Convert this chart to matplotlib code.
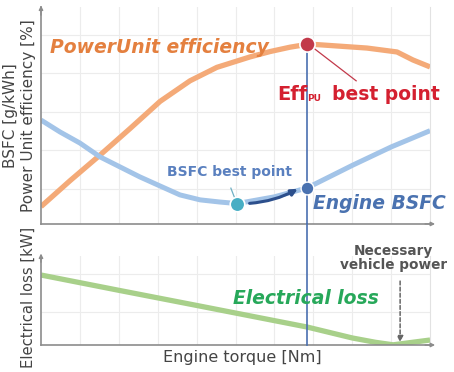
import matplotlib.pyplot as plt
import numpy as np

plt.rcParams['font.family'] = ['DejaVu Sans']

# engine torque axis (arbitrary units, 0..10)
torque = [0, 0.75, 1.52, 2.29, 3.06, 3.83, 4.52, 5.37, 5.89, 6.4, 6.84, 7.09,
          8.38, 9.15, 9.56, 10]
pu_eff = [0.8, 2.0, 3.18, 4.4, 5.65, 6.6, 7.22, 7.7, 7.95, 8.15, 8.28, 8.27,
          8.11, 7.93, 7.56, 7.24]

bsfc_torque = [0, 0.49, 1.0, 1.52, 2.03, 2.54, 3.06, 3.57, 4.09, 4.6, 5.04,
               6.0, 6.84, 8.0, 9.0, 10]
bsfc = [4.79, 4.24, 3.73, 3.09, 2.63, 2.17, 1.75, 1.34, 1.11, 1.01, 0.94,
        1.25, 1.66, 2.7, 3.55, 4.3]

loss_torque = [0, 2, 4, 6.84, 8, 8.6, 9.05, 10]
elec_loss = [7.87, 6.15, 4.45, 2.02, 0.79, 0.3, 0.02, 0.56]

bsfc_best = (5.04, 0.94)
pu_best = (6.84, 8.3)
engine_pt = (6.84, 1.66)
needed_power_torque = 9.23

fig = plt.figure(figsize=(4.54, 3.72), dpi=100)
ax1 = fig.add_axes([0.0903, 0.398, 0.857, 0.583])
ax2 = fig.add_axes([0.0903, 0.0726, 0.857, 0.239])

for ax in (ax1, ax2):
    ax.set_xlim(0, 10)
    ax.set_ylim(0, 10)
    ax.set_xticks(np.arange(1, 10))
    ax.tick_params(length=0, labelbottom=False, labelleft=False)
    ax.grid(True, color='#ececec', lw=0.8)
    ax.set_axisbelow(True)
    ax.spines['top'].set_visible(False)
    ax.spines['right'].set_color('#e2e2e2')
    ax.spines['left'].set_color('#8c8c8c')
    ax.spines['bottom'].set_color('#8c8c8c')
    ax.spines['left'].set_linewidth(1.2)
    ax.spines['bottom'].set_linewidth(1.2)
    # axis arrows
    ax.annotate('', xy=(1.02, 0), xytext=(0.98, 0), xycoords='axes fraction',
                arrowprops=dict(arrowstyle='-|>', color='#8c8c8c', lw=1.0,
                                mutation_scale=6))

ax1.set_yticks([1.61, 3.41, 5.16, 6.96, 8.71])
ax2.set_yticks([3.7, 8.0])
ax1.annotate('', xy=(0, 1.02), xytext=(0, 0.95), xycoords='axes fraction',
             arrowprops=dict(arrowstyle='-|>', color='#8c8c8c', lw=1.0,
                             mutation_scale=6))
ax2.annotate('', xy=(0, 1.06), xytext=(0, 0.9), xycoords='axes fraction',
             arrowprops=dict(arrowstyle='-|>', color='#8c8c8c', lw=1.0,
                             mutation_scale=6))

# curves
ax1.plot(torque, pu_eff, color='#f4aa78', lw=3.8, solid_capstyle='butt',
         solid_joinstyle='round', zorder=2)
ax1.plot(bsfc_torque, bsfc, color='#a3c4e8', lw=3.6, solid_capstyle='butt',
         solid_joinstyle='round', zorder=2)
ax2.plot(loss_torque, elec_loss, color='#a8d08a', lw=3.8, solid_capstyle='butt',
         solid_joinstyle='round', zorder=2)

# vertical operating line, running through the gap between panels
ax1.axvline(pu_best[0], ymin=0, ymax=pu_best[1] / 10, color='#4a6fb0', lw=1.2, zorder=3)
ax2.axvline(pu_best[0], ymin=0, ymax=1.36, color='#4a6fb0', lw=1.2, zorder=3,
            clip_on=False)

# arrow from BSFC best point to the engine point
ax1.annotate('', xy=(engine_pt[0] - 0.18, engine_pt[1] + 0.02),
             xytext=(bsfc_best[0] + 0.25, bsfc_best[1]),
             arrowprops=dict(arrowstyle='-|>', color='#2c4f8c', lw=2.2,
                             mutation_scale=9, connectionstyle='arc3,rad=0.12'),
             zorder=4)

ax1.scatter(*pu_best, s=120, color='#c2394a', edgecolor='white', lw=1.2, zorder=5)
ax1.scatter(*bsfc_best, s=110, color='#47aec4', edgecolor='white', lw=1.2, zorder=5)
ax1.scatter(*engine_pt, s=85, color='#4a72b0', edgecolor='white', lw=1.0, zorder=5)

# annotations
ax1.text(0.22, 8.15, 'PowerUnit efficiency', color='#e4803f', fontsize=13.5,
         fontweight='bold', style='italic', va='center')
ax1.plot([pu_best[0] + 0.1, 8.1], [pu_best[1] - 0.1, 6.6], color='#c2394a', lw=0.9, zorder=4)
ax1.text(6.07, 5.71, 'Eff', color='#d42030', fontsize=14, fontweight='bold',
         va='baseline')
ax1.text(6.83, 5.68, 'PU', color='#d42030', fontsize=6.5, fontweight='bold',
         va='baseline')
ax1.text(7.48, 5.71, 'best point', color='#d42030', fontsize=13.5, fontweight='bold',
         va='baseline')
ax1.plot([4.88, bsfc_best[0] - 0.05], [1.65, bsfc_best[1] + 0.2], color='#6fb0c4', lw=0.9, zorder=4)
ax1.text(4.85, 2.4, 'BSFC best point', color='#5a80bf', fontsize=10,
         fontweight='bold', ha='center', va='center')
ax1.text(7.0, 0.95, 'Engine BSFC', color='#4a72b0', fontsize=13.5,
         fontweight='bold', style='italic', va='center')

ax2.text(6.81, 5.28, 'Electrical loss', color='#27a85a', fontsize=13.5,
         fontweight='bold', style='italic', ha='center', va='center')
ax2.annotate('', xy=(needed_power_torque, 0), xytext=(needed_power_torque, 7.5),
             arrowprops=dict(arrowstyle='-|>', color='#666666', lw=1.1,
                             linestyle=(0, (2.5, 1.5)), mutation_scale=9))
ax2.text(9.05, 9.8, 'Necessary\nvehicle power', color='#555555', fontsize=9.8,
         fontweight='bold', ha='center', va='center', linespacing=1.05)

fig.text(0.024, 0.69, 'BSFC [g/kWh]', rotation=90, color='#444444', fontsize=11,
         ha='center', va='center')
fig.text(0.062, 0.69, 'Power Unit efficiency [%]', rotation=90, color='#444444',
         fontsize=11, ha='center', va='center')
fig.text(0.062, 0.2, 'Electrical loss [kW]', rotation=90, color='#444444', fontsize=10.6,
         ha='center', va='center')
fig.text(0.533, 0.04, 'Engine torque [Nm]', color='#444444', fontsize=11.5,
         ha='center', va='center')

fig.savefig('out.png', dpi=100)
